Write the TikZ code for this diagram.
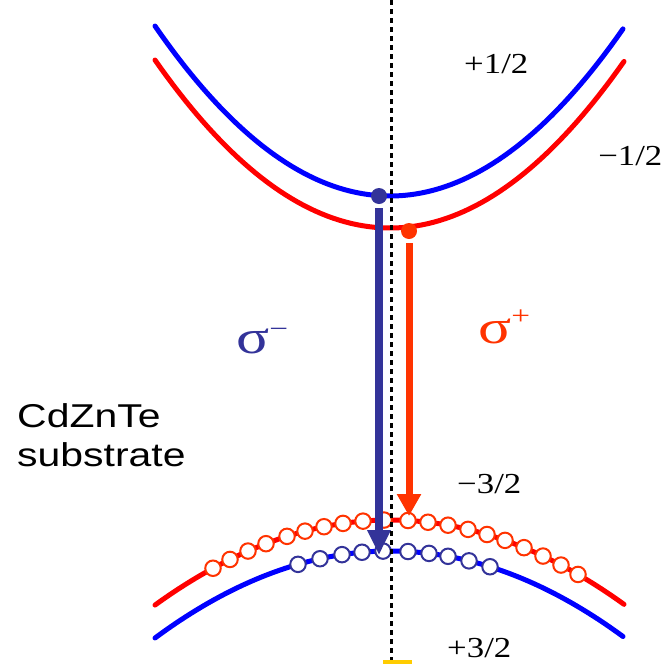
\documentclass[tikz,border=0pt]{standalone}
\usepackage{fontspec}
\setmainfont{Liberation Serif}
\newfontfamily\arialf{Liberation Sans}
\usetikzlibrary{arrows.meta}
\definecolor{pureblue}{HTML}{0000FF}
\definecolor{purered}{HTML}{FF0000}
\definecolor{navy}{HTML}{333399}
\definecolor{orred}{HTML}{FF3300}
\definecolor{gold}{HTML}{FFCC00}
\begin{document}
\begin{tikzpicture}[x=1pt,y=-1pt,
  band/.style={line width=5pt,line cap=round},
  hole/.style={circle,draw,fill=white,line width=2pt,minimum size=15.5pt,inner sep=0pt},
  dotmark/.style={circle,minimum size=16pt,inner sep=0pt},
  spin/.style={font=\fontsize{29}{29}\selectfont,anchor=base west,xscale=1.2,inner sep=0pt},
  sub/.style={font=\arialf\fontsize{33}{33}\selectfont,anchor=base west,xscale=1.24,inner sep=0pt},
  pol/.style={font=\fontsize{48}{48}\selectfont,anchor=base west,xscale=1.28,inner sep=0pt}]
\useasboundingbox (0,0) rectangle (668,664);
% conduction bands
\draw[band,pureblue] plot[domain=155:623,samples=80] (\x,{196-30.78*((\x-390)/100)^2});
\draw[band,purered] plot[domain=155:624,samples=80] (\x,{228-30.42*((\x-390)/100)^2});
% valence bands
\draw[band,purered] plot[domain=155:624,samples=80] (\x,{520+15.4*((\x-390)/100)^2});
\draw[band,pureblue] plot[domain=155:623,samples=80] (\x,{551+15.75*((\x-390)/100)^2});
% red holes
\foreach \px in {213,230,248,266,287,305,324,343,363,384,408,428,448,468,487,505,524,543,561,578}
  \node[hole,draw=orred] (r\px) at (\px,{520+15.4*((\px-390)/100)^2}) {};
% blue holes
\foreach \px in {298,320,342,362,383,408,429,448,469,490}
  \node[hole,draw=navy] (b\px) at (\px,{551+15.75*((\px-390)/100)^2}) {};
% electrons and transitions
\node[dotmark,fill=navy] (bdot) at (379,196) {};
\node[dotmark,fill=orred] (rdot) at (409,231) {};
\coordinate (btip) at (379,555);
\coordinate (rtip) at (409,516);
\draw[navy,line width=8pt,-{Triangle[width=22pt,length=25pt]}] ([yshift=-4pt]bdot.south) -- (btip);
\draw[orred,line width=7pt,-{Triangle[width=23pt,length=22pt]}] ([yshift=-4pt]rdot.south) -- (rtip);
% dotted axis
\coordinate (dtop) at (391,0);
\coordinate (dbot) at (391,660);
\draw[black,line width=3pt,dash pattern=on 5pt off 4pt] (dtop) -- (dbot);
\fill[gold] (383,660) rectangle (412,664);
% labels
\node[spin] (up) at (464,73) {+1/2};
\node[spin] (dn) at (598,165) {−1/2};
\node[spin] (hm) at (457,493) {−3/2};
\node[spin] (hp) at (447,657) {+3/2};
\node[sub] (cd) at (17,427) {CdZnTe};
\node[sub] (st) at (17,466) {substrate};
\node[pol,text=navy] (sm) at (236,353) {σ\raisebox{0.32em}{\fontsize{26}{26}\selectfont −}};
\node[pol,text=orred] (sp) at (478,343) {σ\raisebox{0.38em}{\fontsize{26}{26}\selectfont +}};
\end{tikzpicture}
\end{document}
